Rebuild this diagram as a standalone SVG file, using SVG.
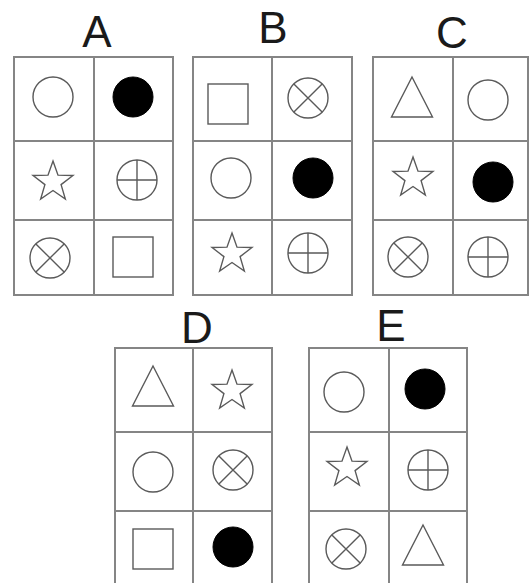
<svg xmlns="http://www.w3.org/2000/svg" xmlns:xlink="http://www.w3.org/1999/xlink" width="530" height="583" viewBox="0 0 530 583">
<style>
.lbl{font-family:"Liberation Sans",Arial,sans-serif;font-size:44px;fill:#1a1a1a;text-anchor:middle}
.grid{fill:none;stroke:#858585;stroke-width:2}
.sym{fill:none;stroke:#5a5a5a;stroke-width:1.4}
.solid{fill:#000;stroke:#000;stroke-width:1}
</style>
<defs>
<g id="circ"><circle class="sym" cx="0" cy="0" r="20"/></g>
<g id="dot"><circle class="solid" cx="0" cy="0" r="20"/></g>
<g id="star"><polygon class="sym" points="0,-21 5,-6.88 19.97,-6.49 8.08,2.63 12.34,16.99 0,8.5 -12.34,16.99 -8.08,2.63 -19.97,-6.49 -5,-6.88"/></g>
<g id="plus"><circle class="sym" cx="0" cy="0" r="20"/><path class="sym" d="M-20,0H20M0,-20V20"/></g>
<g id="cross"><circle class="sym" cx="0" cy="0" r="20"/><path class="sym" d="M-14.1,-14.1L14.1,14.1M14.1,-14.1L-14.1,14.1"/></g>
<g id="sq"><rect class="sym" x="-20" y="-20" width="40" height="40"/></g>
<g id="tri"><polygon class="sym" points="0,-20 20.5,20 -20.5,20"/></g>
</defs>

<g id="panelA">
<text class="lbl" x="97" y="47">A</text>
<rect class="grid" x="14" y="57" width="159" height="238"/>
<path class="grid" d="M94,57V295M14,141H173M14,220H173"/>
<use xlink:href="#circ" x="53" y="97"/>
<use xlink:href="#dot" x="133" y="97"/>
<use xlink:href="#star" x="53" y="182"/>
<use xlink:href="#plus" x="137" y="180"/>
<use xlink:href="#cross" x="50" y="258"/>
<use xlink:href="#sq" x="133" y="257"/>
</g>

<g id="panelB">
<text class="lbl" x="273" y="43">B</text>
<rect class="grid" x="193" y="57" width="159" height="238"/>
<path class="grid" d="M272,57V295M193,141H352M193,220H352"/>
<use xlink:href="#sq" x="228" y="104"/>
<use xlink:href="#cross" x="308" y="98"/>
<use xlink:href="#circ" x="231" y="178"/>
<use xlink:href="#dot" x="313" y="178"/>
<use xlink:href="#star" x="232" y="254"/>
<use xlink:href="#plus" x="308" y="253"/>
</g>

<g id="panelC">
<text class="lbl" x="452" y="48">C</text>
<rect class="grid" x="373" y="57" width="155" height="238"/>
<path class="grid" d="M453,57V295M373,141H528M373,220H528"/>
<use xlink:href="#tri" x="412" y="97"/>
<use xlink:href="#circ" x="488" y="100"/>
<use xlink:href="#star" x="413" y="178"/>
<use xlink:href="#dot" x="493" y="182"/>
<use xlink:href="#cross" x="408" y="257"/>
<use xlink:href="#plus" x="488" y="257"/>
</g>

<g id="panelD">
<text class="lbl" x="197" y="343">D</text>
<rect class="grid" x="115" y="348" width="157" height="245"/>
<path class="grid" d="M193,348V593M115,432H272M115,511H272"/>
<use xlink:href="#tri" x="153" y="386"/>
<use xlink:href="#star" x="232" y="391"/>
<use xlink:href="#circ" x="153" y="472"/>
<use xlink:href="#cross" x="233" y="470"/>
<use xlink:href="#sq" x="153" y="549"/>
<use xlink:href="#dot" x="233" y="547"/>
</g>

<g id="panelE">
<text class="lbl" x="391" y="341">E</text>
<rect class="grid" x="309" y="348" width="158" height="245"/>
<path class="grid" d="M389,348V593M309,432H467M309,511H467"/>
<use xlink:href="#circ" x="344" y="392"/>
<use xlink:href="#dot" x="425" y="389"/>
<use xlink:href="#star" x="347" y="468"/>
<use xlink:href="#plus" x="428" y="470"/>
<use xlink:href="#cross" x="346" y="549"/>
<use xlink:href="#tri" x="423" y="545"/>
</g>

<g id="connectors"></g>
</svg>
